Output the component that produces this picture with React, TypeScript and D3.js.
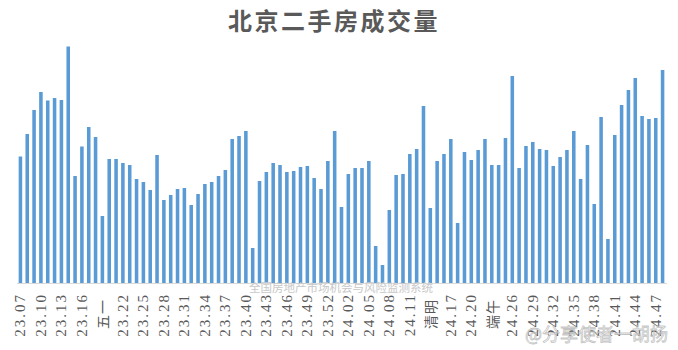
import React from "react";
import * as d3 from "d3";

const categories: string[] = [
  "23.07","23.08","23.09","23.10","23.11","23.12","23.13","23.14","23.15","23.16",
  "23.17","23.18","五一","23.20","23.21","23.22","23.23","23.24","23.25","23.26",
  "23.27","23.28","23.29","23.30","23.31","23.32","23.33","23.34","23.35","23.36",
  "23.37","23.38","23.39","23.40","23.41","23.42","23.43","23.44","23.45","23.46",
  "23.47","23.48","23.49","23.50","23.51","23.52","23.53",
  "24.01","24.02","24.03","24.04","24.05","24.06","24.07","24.08","24.09","24.10",
  "24.11","24.12","24.13","清明","24.15","24.16","24.17","24.18","24.19","24.20",
  "24.21","24.22","端午","24.24","24.25","24.26","24.27","24.28","24.29","24.30",
  "24.31","24.32","24.33","24.34","24.35","24.36","24.37","24.38","24.39","24.40",
  "24.41","24.42","24.43","24.44","24.45","24.46","24.47","24.48",
];

const volumes: number[] = [
  2530, 2980, 3460, 3820, 3650, 3700, 3660, 4730, 2140, 2730,
  3120, 2920, 1340, 2480, 2480, 2400, 2360, 2080, 2020, 1860,
  2560, 1660, 1760, 1880, 1900, 1560, 1780, 1980, 2020, 2140,
  2260, 2880, 2940, 3040, 700, 2040, 2220, 2400, 2360, 2220,
  2240, 2320, 2340, 2100, 1880, 2440, 3040, 1520, 2180, 2300,
  2300, 2440, 740, 360, 1460, 2160, 2180, 2580, 2680, 3540,
  1500, 2440, 2580, 2880, 1200, 2620, 2460, 2660, 2880, 2360,
  2360, 2900, 4140, 2300, 2740, 2820, 2680, 2660, 2340, 2520,
  2660, 3040, 2080, 2760, 1580, 3320, 880, 2960, 3560, 3860,
  4100, 3340, 3280, 3300, 4260,
];

const title = "北京二手房成交量";
const sourceNote = "全国房地产市场机会与风险监测系统";
const weiboMark = "@分享使者一胡扬";
const tickEvery = 3;

const W = 678;
const H = 350;

export default function App() {
  const x = d3
    .scaleBand<string>()
    .domain(categories)
    .range([17, 666])
    .paddingInner(0.48)
    .paddingOuter(0.24);
  const y = d3.scaleLinear().domain([0, 4800]).range([283, 43]);
  const baseY = y(0);

  return (
    <svg
      width={W}
      height={H}
      style={{ position: "absolute", left: 0, top: 0, background: "#fff" }}
    >
      <text
        x={334}
        y={30}
        textAnchor="middle"
        fontFamily="'Noto Sans CJK SC', sans-serif"
        fontWeight="bold"
        fontSize={24}
        letterSpacing={2.5}
        fill="#595959"
      >
        {title}
      </text>

      {categories.map((c, i) => (
        <rect
          key={c}
          x={x(c)}
          y={y(volumes[i])}
          width={x.bandwidth()}
          height={baseY - y(volumes[i])}
          fill="#5B9BD5"
        />
      ))}

      <line x1={17} x2={667} y1={baseY + 0.5} y2={baseY + 0.5} stroke="#d9d9d9" strokeWidth={1} />

      <text
        x={341}
        y={292}
        textAnchor="middle"
        fontFamily="'Noto Sans CJK SC', sans-serif"
        fontSize={11.5}
        fill="#c8c8c8"
      >
        {sourceNote}
      </text>

      {categories.map((c, i) => {
        if (i % tickEvery !== 0) return null;
        const cx = (x(c) as number) + x.bandwidth() / 2;
        const isCjk = /[\u4e00-\u9fff]/.test(c);
        return (
          <text
            key={"t" + c}
            transform={`translate(${cx},${isCjk ? 299 : 293}) rotate(-90)`}
            textAnchor="end"
            dominantBaseline="central"
            fontFamily={isCjk ? "'Noto Sans CJK SC', sans-serif" : "'Liberation Serif', serif"}
            fontSize={isCjk ? 14 : 15}
            letterSpacing={isCjk ? 1 : 2}
            fill="#595959"
          >
            {c}
          </text>
        );
      })}

      <text
        x={668}
        y={341}
        textAnchor="end"
        fontFamily="'Noto Sans CJK SC', sans-serif"
        fontSize={18}
        fill="#ffffff"
        fillOpacity={0.6}
        stroke="#9a9a9a"
        strokeWidth={0.8}
        strokeOpacity={0.6}
      >
        {weiboMark}
      </text>
    </svg>
  );
}
